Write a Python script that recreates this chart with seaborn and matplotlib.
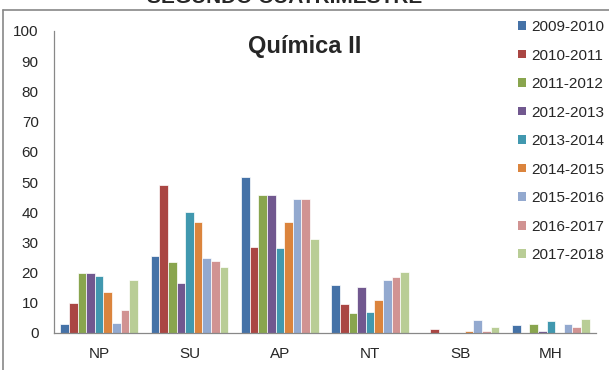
import matplotlib
matplotlib.use("Agg")
import matplotlib.pyplot as plt
from matplotlib.patches import Patch
from matplotlib.lines import Line2D
import seaborn as sns
import pandas as pd

categories = ["NP", "SU", "AP", "NT", "SB", "MH"]
years = ["2009-2010", "2010-2011", "2011-2012", "2012-2013", "2013-2014",
         "2014-2015", "2015-2016", "2016-2017", "2017-2018"]
colors = ["#4572A7", "#AA4643", "#89A54E", "#71588F", "#4198AF",
          "#DB843D", "#93A9CF", "#D19392", "#B9CD96"]

v_2009 = [3, 25.6, 51.6, 15.8, 0, 2.6]
v_2010 = [10, 49, 28.5, 9.7, 1.3, 0]
v_2011 = [20, 23.4, 45.7, 6.5, 0, 2.9]
v_2012 = [20, 16.7, 45.7, 15.3, 0, 0.8]
v_2013 = [19, 40.2, 28.2, 7, 0, 3.9]
v_2014 = [13.5, 36.6, 36.6, 11, 0.8, 0]
v_2015 = [3.3, 25, 44.4, 17.6, 4.2, 3.1]
v_2016 = [7.7, 24, 44.4, 18.5, 0.8, 2.0]
v_2017 = [17.6, 21.9, 31, 20.3, 2.1, 4.6]
series = [v_2009, v_2010, v_2011, v_2012, v_2013, v_2014, v_2015, v_2016, v_2017]

rows = []
for y, vals in zip(years, series):
    for c, v in zip(categories, vals):
        rows.append({"cat": c, "year": y, "val": v})
df = pd.DataFrame(rows)

sns.set_theme(style="white")
plt.rcParams["font.family"] = ["Liberation Sans", "DejaVu Sans"]

W, H = 609, 370
fig = plt.figure(figsize=(W / 100, H / 100), dpi=100)
ax = fig.add_axes([54 / W, 1 - 333 / H, (596 - 54) / W, (333 - 31) / H])

sns.barplot(data=df, x="cat", y="val", hue="year", hue_order=years,
            order=categories, palette=colors, saturation=1, width=0.86,
            edgecolor="white", linewidth=0.5, ax=ax, legend=False)

ax.set_ylim(0, 100)
ax.set_xlim(-0.5, 5.5)
ax.set_yticks(range(0, 101, 10))
ax.set_xticks([i - 0.5 for i in range(7)])
ax.set_xticklabels([])
ax.set_xticks(range(6), minor=True)
ax.set_xticklabels(categories, minor=True)
ax.tick_params(axis="x", which="major", length=5, width=0.8, color="#888888", direction="out")
ax.tick_params(axis="x", which="minor", length=0, pad=10, labelsize=11)
ax.tick_params(axis="y", length=5, width=0.8, color="#888888", direction="out", labelsize=11, pad=6)
ax.set_xlabel("")
ax.set_ylabel("")
for s in ["top", "right"]:
    ax.spines[s].set_visible(False)
for s in ["left", "bottom"]:
    ax.spines[s].set_color("#888888")
    ax.spines[s].set_linewidth(0.9)

handles = [Patch(facecolor=c, edgecolor="none") for c in colors]
leg = fig.legend(handles, years, loc="upper left", bbox_to_anchor=(518 / W, 1 - 20 / H),
                 frameon=False, fontsize=11, handlelength=0.5, handleheight=0.5,
                 handletextpad=0.35, labelspacing=0.95, borderpad=0, borderaxespad=0)

fig.text(305 / W, 1 - 46 / H, "Química II", ha="center", va="center",
         fontsize=17, fontweight="bold")
fig.text(285 / W, 1 + 3 / H, "SEGUNDO CUATRIMESTRE", ha="center", va="center",
         fontsize=15, fontweight="bold")

fig.add_artist(Line2D([3 / W, 3 / W], [0, 1 - 10 / H], color="#888888", lw=1.2,
                      transform=fig.transFigure))
fig.add_artist(Line2D([3 / W, 1], [1 - 10 / H, 1 - 10 / H], color="#888888", lw=1.2,
                      transform=fig.transFigure))

fig.savefig("out.png", dpi=100)
